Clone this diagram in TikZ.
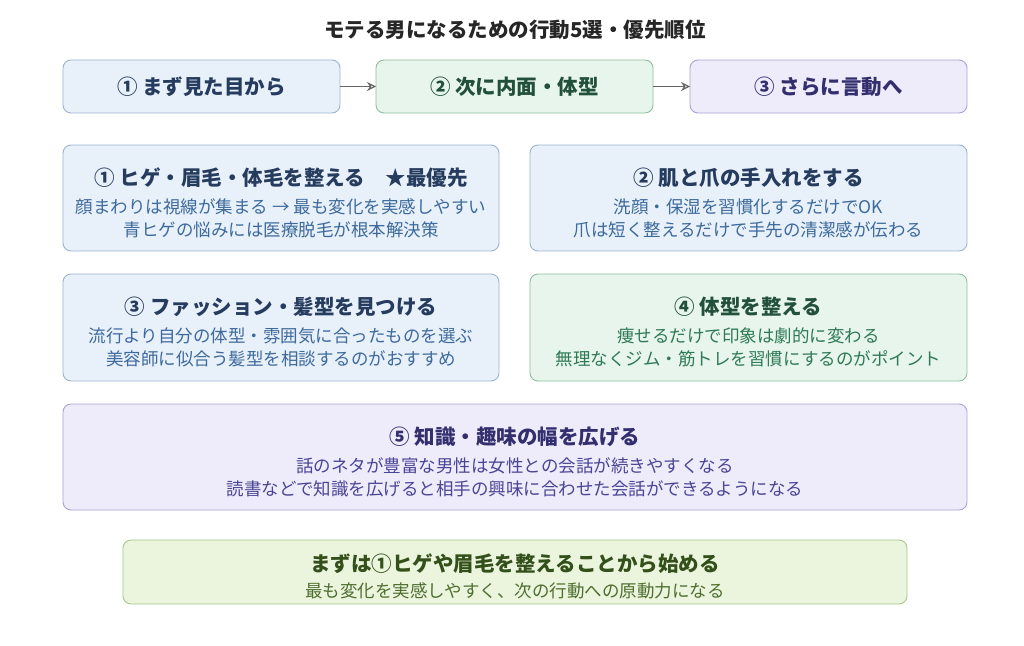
\documentclass[tikz,border=0pt]{standalone}
\usepackage{fontspec}
\setmainfont{Noto Sans CJK JP}
\usetikzlibrary{arrows.meta}
\definecolor{bF}{HTML}{E8F0FA}\definecolor{bD}{HTML}{9DB3CE}\definecolor{bT}{HTML}{263C5E}\definecolor{bB}{HTML}{3D6A9C}
\definecolor{gF}{HTML}{E7F5EC}\definecolor{gD}{HTML}{8EBFA0}\definecolor{gT}{HTML}{22503A}\definecolor{gB}{HTML}{2F7A55}
\definecolor{pF}{HTML}{EEEBFA}\definecolor{pD}{HTML}{A8A2D6}\definecolor{pT}{HTML}{332E6E}\definecolor{pB}{HTML}{4A4596}
\definecolor{lF}{HTML}{EBF4DD}\definecolor{lD}{HTML}{A9C68B}\definecolor{lT}{HTML}{34501A}\definecolor{lB}{HTML}{4E6E2E}
\tikzset{box/.style={draw=#1D,fill=#1F,rounded corners=8pt,line width=0.9pt},
 ht/.style={font=\fontsize{20.5}{24}\selectfont\bfseries,text=#1T},
 bt/.style={font=\fontsize{17.5}{23}\selectfont,text=#1B,align=center},
 arr/.style={-{Stealth[length=9pt,width=9pt,open]},draw=gray!80!black,line width=1.2pt}}
\begin{document}
\begin{tikzpicture}[x=1pt,y=-1pt]
\useasboundingbox[fill=white] (0,0) rectangle (1024,645);
\node[font=\fontsize{20.5}{24}\selectfont\bfseries,text=black!85] (title) at (515,30) {モテる男になるための行動5選・優先順位};
\draw[box=b] (63,60) rectangle (340,113); \node[ht=b] (s1) at (201.5,86.5) {① まず見た目から};
\draw[box=g] (376,60) rectangle (653,113); \node[ht=g] (s2) at (514.5,86.5) {② 次に内面・体型};
\draw[box=p] (690,60) rectangle (967,113); \node[ht=p] (s3) at (828.5,86.5) {③ さらに言動へ};
\coordinate (a1) at (340,86.5); \coordinate (a2) at (376,86.5);
\coordinate (a3) at (653,86.5); \coordinate (a4) at (690,86.5);
\draw[arr] (a1) -- (a2); \draw[arr] (a3) -- (a4);
\draw[box=b] (63,145) rectangle (499,251);
\node[ht=b] (h1) at (281,178) {① ヒゲ・眉毛・体毛を整える\quad ★最優先};
\node[bt=b] (t1) at (281,218) {顔まわりは視線が集まる → 最も変化を実感しやすい\\青ヒゲの悩みには医療脱毛が根本解決策};
\draw[box=b] (530,145) rectangle (967,251);
\node[ht=b] (h2) at (748.5,178) {② 肌と爪の手入れをする};
\node[bt=b] (t2) at (748.5,218) {洗顔・保湿を習慣化するだけでOK\\爪は短く整えるだけで手先の清潔感が伝わる};
\draw[box=b] (63,274) rectangle (499,381);
\node[ht=b] (h3) at (281,307) {③ ファッション・髪型を見つける};
\node[bt=b] (t3) at (281,347) {流行より自分の体型・雰囲気に合ったものを選ぶ\\美容師に似合う髪型を相談するのがおすすめ};
\draw[box=g] (530,274) rectangle (967,381);
\node[ht=g] (h4) at (748.5,307) {④ 体型を整える};
\node[bt=g] (t4) at (748.5,347) {痩せるだけで印象は劇的に変わる\\無理なくジム・筋トレを習慣にするのがポイント};
\draw[box=p] (63,404) rectangle (967,510);
\node[ht=p] (h5) at (515,437) {⑤ 知識・趣味の幅を広げる};
\node[bt=p] (t5) at (515,477) {話のネタが豊富な男性は女性との会話が続きやすくなる\\読書などで知識を広げると相手の興味に合わせた会話ができるようになる};
\draw[box=l] (123,540) rectangle (907,604);
\node[ht=l] (h6) at (515,564) {まずは①ヒゲや眉毛を整えることから始める};
\node[bt=l] (t6) at (515,591) {最も変化を実感しやすく、次の行動への原動力になる};
\end{tikzpicture}
\end{document}
